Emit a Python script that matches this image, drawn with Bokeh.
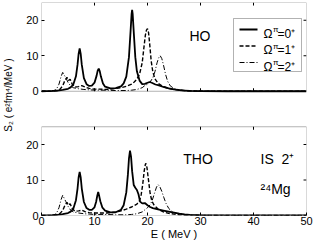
from math import pi
from bokeh.plotting import figure
from bokeh.models import (Range1d, FixedTicker, BoxAnnotation, Label, Arrow)
from bokeh.embed import file_html
from bokeh.resources import INLINE

# ---------------- data ----------------
# HO panel
E_ho0 = [0, 2, 3, 4, 5, 5.5, 6, 6.5, 6.8, 7.0, 7.2, 7.4, 7.6, 8.0, 8.5, 9.0, 9.5,
         10.0, 10.4, 10.6, 10.8, 11.0, 11.2, 11.6, 12, 13, 14, 15, 15.5, 16, 16.5,
         16.8, 17.0, 17.1, 17.2, 17.4, 17.7, 18, 18.5, 19, 19.5, 20, 20.4, 20.8,
         21.5, 22, 23, 24, 25, 26, 27, 28, 30, 35, 50]
S_ho0 = [0, 0.1, 0.2, 0.4, 0.7, 1.1, 1.9, 4.2, 7.5, 10.5, 12.1, 10.5, 7.5, 3.7, 2.0,
         1.5, 1.6, 2.4, 4.4, 5.8, 6.4, 5.6, 4.2, 2.2, 1.3, 0.8, 0.9, 1.4, 2.2, 4.1,
         9.6, 16.8, 21.8, 22.9, 21.8, 16.8, 9.6, 5.6, 3.0, 2.0, 2.1, 2.4, 2.6, 2.4,
         1.9, 1.7, 1.2, 0.8, 0.5, 0.3, 0.2, 0.1, 0.05, 0, 0]

E_ho1 = [0, 2, 3, 3.5, 4, 4.4, 4.8, 5.1, 5.4, 5.8, 6.3, 7, 7.6, 8.2, 9, 10, 11, 12,
         13, 14, 15, 16, 17, 17.5, 18, 18.5, 19, 19.3, 19.6, 19.8, 20.0, 20.2, 20.4,
         20.7, 21, 21.4, 22, 23, 24, 25, 26, 28, 30, 35, 50]
S_ho1 = [0, 0, 0.2, 0.6, 1.5, 3.0, 3.9, 3.0, 3.4, 2.0, 1.2, 1.3, 1.6, 1.2, 0.8, 0.6,
         0.6, 0.5, 0.6, 0.8, 1.0, 1.4, 2.0, 2.6, 3.4, 4.8, 8.0, 12.0, 15.8, 17.2,
         17.6, 16.5, 13.5, 8.5, 5.5, 3.5, 2.2, 1.3, 0.8, 0.5, 0.3, 0.1, 0.05, 0, 0]

E_ho2 = [0, 2, 2.8, 3.3, 3.7, 4.0, 4.3, 4.6, 5.0, 5.5, 6, 7, 8, 9, 10, 12, 14, 16,
         17, 18, 19, 19.5, 20, 20.5, 21, 21.4, 21.8, 22.1, 22.4, 22.7, 23.0, 23.4,
         23.8, 24.3, 25, 26, 27, 28, 30, 35, 50]
S_ho2 = [0, 0, 0.5, 2.0, 4.2, 5.3, 4.5, 3.8, 2.5, 1.5, 1.0, 0.7, 0.5, 0.4, 0.3, 0.3,
         0.2, 0.2, 0.3, 0.5, 1.0, 1.6, 2.0, 2.6, 3.8, 5.5, 8.0, 9.4, 10.0, 9.2, 7.5,
         4.8, 2.8, 1.5, 0.8, 0.4, 0.2, 0.1, 0.05, 0, 0]

# THO panel
E_tho0 = [0, 2, 3, 4, 5, 5.5, 6, 6.5, 6.8, 7.0, 7.2, 7.4, 7.6, 8.0, 8.5, 9.0, 9.5,
          10.0, 10.3, 10.5, 10.7, 10.9, 11.1, 11.5, 12, 13, 14, 15, 15.5, 16, 16.3,
          16.5, 16.7, 16.9, 17.1, 17.4, 17.7, 18.0, 18.3, 18.6, 19.0, 19.5, 20, 20.5,
          21, 22, 23, 24, 25, 26, 27, 28, 30, 35, 50]
S_tho0 = [0, 0.1, 0.2, 0.4, 0.7, 1.1, 1.9, 4.3, 7.6, 10.7, 12.3, 10.7, 7.6, 3.8, 2.1,
          1.6, 1.6, 2.3, 3.8, 5.4, 6.6, 5.4, 4.0, 2.2, 1.4, 0.9, 0.9, 1.6, 2.9, 6.5,
          11.5, 16.0, 18.3, 16.5, 12.5, 8.6, 7.8, 7.2, 6.0, 3.9, 3.4, 3.5, 2.9, 2.4,
          2.1, 1.7, 1.4, 1.1, 0.8, 0.5, 0.3, 0.2, 0.05, 0, 0]

E_tho1 = [0, 2, 3, 3.5, 4, 4.4, 4.8, 5.1, 5.4, 5.8, 6.3, 7, 7.6, 8.2, 9, 10, 11, 12,
          13, 14, 15, 16, 17, 17.5, 18, 18.5, 18.8, 19.1, 19.4, 19.6, 19.7, 19.9,
          20.2, 20.5, 20.8, 21.2, 22, 23, 24, 25, 26, 28, 30, 35, 50]
S_tho1 = [0, 0, 0.2, 0.6, 1.4, 2.8, 3.7, 2.9, 3.3, 2.0, 1.2, 1.3, 1.5, 1.1, 0.8, 0.7,
          0.7, 0.7, 0.8, 1.0, 1.3, 1.8, 2.4, 2.8, 3.2, 4.2, 5.8, 8.8, 12.8, 14.4,
          14.7, 13.5, 9.8, 6.2, 4.2, 3.0, 1.8, 1.0, 0.6, 0.4, 0.2, 0.1, 0.05, 0, 0]

E_tho2 = [0, 2, 2.8, 3.3, 3.7, 4.0, 4.3, 4.6, 5.0, 5.5, 6, 7, 8, 9, 10, 12, 14, 16,
          17, 18, 19, 19.5, 20, 20.5, 20.9, 21.3, 21.7, 22.0, 22.3, 22.7, 23.1, 23.5,
          24.0, 24.5, 25, 26, 27, 28, 30, 35, 50]
S_tho2 = [0, 0, 0.5, 2.2, 4.5, 5.7, 4.8, 3.9, 2.6, 1.5, 1.0, 0.7, 0.5, 0.4, 0.3, 0.3,
          0.2, 0.2, 0.3, 0.5, 1.0, 1.6, 2.2, 3.0, 4.3, 6.2, 8.0, 8.7, 8.2, 6.8, 5.0,
          3.4, 2.0, 1.3, 0.8, 0.4, 0.2, 0.1, 0.05, 0, 0]

E_TICKS = [0, 10, 20, 30, 40, 50]
S_TICKS = [0, 10, 20]
E_RANGE = (0, 50)
S_RANGE = (0, 25)
SERIES_LABELS = ["0", "1", "2"]

# ---------------- layout constants ----------------
OFFSET = 35          # data-unit offset of the top panel inside the shared frame
TOTAL = OFFSET + S_RANGE[1]
FONT = "Liberation Sans"
TICK_Y = 0.85        # 3 px in y data units
TICK_X = 0.56        # 3 px in x data units

p = figure(width=316, height=242, output_backend="svg", toolbar_location=None,
           x_range=Range1d(*E_RANGE), y_range=Range1d(0, TOTAL),
           min_border_left=37, min_border_right=10, min_border_top=2,
           min_border_bottom=27)
p.extra_y_ranges = {"top": Range1d(S_RANGE[0] - OFFSET, S_RANGE[1])}
p.outline_line_color = None
p.xgrid.visible = False
p.ygrid.visible = False
p.background_fill_color = "white"
p.border_fill_color = "white"

left_ticks = S_TICKS + [t + OFFSET for t in S_TICKS]
overrides = {t + OFFSET: str(t) for t in S_TICKS}

def style_axis(ax):
    ax.axis_line_color = None
    ax.major_tick_in = 3
    ax.major_tick_out = 0
    ax.minor_tick_line_color = None
    ax.major_tick_line_color = "black"
    ax.major_label_text_font = FONT
    ax.major_label_text_font_size = "11px"
    ax.major_label_text_color = "black"
    ax.axis_label_text_font = FONT
    ax.axis_label_text_font_style = "normal"
    ax.axis_label_text_color = "black"

xa = p.xaxis[0]
xa.ticker = FixedTicker(ticks=E_TICKS)
style_axis(xa)
xa.major_label_standoff = 1
xa.axis_label = "E ( MeV )"
xa.axis_label_text_font_size = "11px"
xa.axis_label_standoff = 0

ya = p.yaxis[0]
ya.ticker = FixedTicker(ticks=left_ticks)
ya.major_label_overrides = overrides
style_axis(ya)
ya.major_label_standoff = 3
ya.axis_label = "\u00a0" * 10 + "S₂ ( e²fm⁴/MeV )"
ya.axis_label_text_font_size = "10px"
ya.axis_label_standoff = 9

# tick marks on the other panel edges (top / right / edges facing the gap)
inner_x = E_TICKS[1:-1]
p.segment(x0=inner_x, x1=inner_x, y0=S_RANGE[0], y1=S_RANGE[0] + TICK_Y,
          y_range_name="top", line_color="black", line_width=1)
p.segment(x0=inner_x, x1=inner_x, y0=S_RANGE[1], y1=S_RANGE[1] - TICK_Y,
          y_range_name="top", line_color="black", line_width=1)
p.segment(x0=inner_x, x1=inner_x, y0=S_RANGE[1], y1=S_RANGE[1] - TICK_Y,
          line_color="black", line_width=1)
for yname in ("default", "top"):
    p.segment(x0=E_RANGE[1], x1=E_RANGE[1] - TICK_X, y0=S_TICKS[1:], y1=S_TICKS[1:],
              y_range_name=yname, line_color="black", line_width=1)

styles = [dict(line_width=1.8, line_dash="solid"),
          dict(line_width=1.4, line_dash="4 2"),
          dict(line_width=1.0, line_dash="5 2 1 2")]

for (E, S), st in zip([(E_ho0, S_ho0), (E_ho1, S_ho1), (E_ho2, S_ho2)], styles):
    p.line(E, S, line_color="black", y_range_name="top", **st)
for (E, S), st in zip([(E_tho0, S_tho0), (E_tho1, S_tho1), (E_tho2, S_tho2)], styles):
    p.line(E, S, line_color="black", **st)

# panel boxes
for b in (0, OFFSET):
    p.add_layout(BoxAnnotation(left=E_RANGE[0], right=E_RANGE[1], bottom=b + S_RANGE[0],
                               top=b + S_RANGE[1], fill_color=None, line_color="black",
                               line_width=1))

def lab(x, y, text, size="11px", align="left", baseline="alphabetic"):
    p.add_layout(Label(x=x, y=y, x_units="screen", y_units="screen", text=text,
                       text_font=FONT, text_font_size=size, text_align=align,
                       text_baseline=baseline, text_color="black"))

# legend drawn by hand (screen units relative to the frame)
p.add_layout(BoxAnnotation(left=192, right=260, top=197, bottom=144,
                           left_units="screen", right_units="screen",
                           top_units="screen", bottom_units="screen",
                           fill_color="white", fill_alpha=1, line_color="black",
                           line_width=1))
rows_y = [186, 169.5, 153]
for s, st, ry in zip(SERIES_LABELS, styles, rows_y):
    p.add_layout(Arrow(start=None, end=None, x_start=198, y_start=ry, x_end=216,
                       y_end=ry, start_units="screen", end_units="screen",
                       line_color="black", **st))
    lab(222, ry - 4, "Ω", size="12px")
    lab(231.5, ry, "π", size="8px")
    lab(236, ry - 4, "=" + s + "⁺", size="12px")

lab(158.5, 180, "HO", size="14px", align="center")
lab(156.5, 57, "THO", size="14px", align="center")
lab(219, 57, "IS\u00a0 2⁺", size="14px")
lab(219, 27, "²⁴Mg", size="14px")

open("out.html", "w").write(file_html(p, INLINE))
